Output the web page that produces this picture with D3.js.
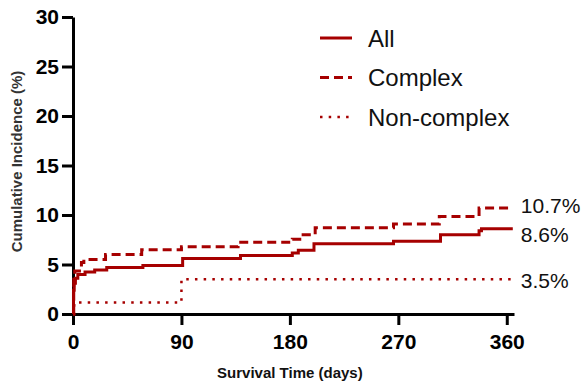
<!DOCTYPE html>
<meta charset="utf-8">
<script src="https://d3js.org/d3.v7.min.js"></script>
<style>
  body { margin: 0; background: #fff; }
  text { font-family: "Liberation Sans", Arial, sans-serif; }
</style>
<div id="chart"></div>
<script>

// step changes: day of the jump, and the new value (%)
var allDays = [0, 0.4, 1, 2, 4, 10, 18, 28, 58, 91, 139, 182, 187, 200, 266, 305, 337, 339];
var allVals = [0, 2.4, 3.1, 3.6, 4.0, 4.25, 4.45, 4.7, 4.9, 5.6, 5.9, 6.15, 6.45, 7.1, 7.35, 8.0, 8.4, 8.6];

var complexDays = [0, 0.6, 1.5, 7, 9, 27, 57, 90, 137, 182, 191, 201, 266, 304, 337];
var complexVals = [0, 3.5, 4.35, 5.2, 5.5, 6.0, 6.5, 6.8, 7.25, 7.55, 8.0, 8.7, 9.1, 9.85, 10.7];

var nonComplexDays = [0, 1, 90];
var nonComplexVals = [0, 1.15, 3.5];

var lastDay = 365;

var seriesNames = ["All", "Complex", "Non-complex"];
var endLabels = ["8.6%", "10.7%", "3.5%"];

var xTicks = [0, 90, 180, 270, 360];
var yTicks = [0, 5, 10, 15, 20, 25, 30];

var width = 585, height = 383;
var red = "#a60000";

var svg = d3.select("#chart").append("svg")
    .attr("width", width)
    .attr("height", height);

var x = d3.scaleLinear().domain([0, 366]).range([73, 514]);
var y = d3.scaleLinear().domain([0, 30]).range([314, 17]);

function toPoints(days, vals) {
  var pts = days.map(function(d, i) { return [d, vals[i]]; });
  pts.push([lastDay, vals[vals.length - 1]]);
  return pts;
}

var series = [
  { pts: toPoints(allDays, allVals), dash: null, width: 3, label: endLabels[0], dy: 6 },
  { pts: toPoints(complexDays, complexVals), dash: "9,5", width: 3, label: endLabels[1], dy: -3 },
  { pts: toPoints(nonComplexDays, nonComplexVals), dash: "2.5,6.2", width: 2.5, label: endLabels[2], dy: 1 }
];

var line = d3.line()
  .x(function(d) { return x(d[0]); })
  .y(function(d) { return y(d[1]); })
  .curve(d3.curveStepAfter);

// axes
var xAxis = svg.append("g")
  .attr("transform", "translate(0," + y(0) + ")")
  .call(d3.axisBottom(x).tickValues(xTicks).tickSize(11).tickSizeOuter(0).tickPadding(9));

var yAxis = svg.append("g")
  .attr("transform", "translate(" + x(0) + ",0)")
  .call(d3.axisLeft(y).tickValues(yTicks).tickSize(11).tickSizeOuter(0).tickPadding(3));

[xAxis, yAxis].forEach(function(a) {
  a.select(".domain").attr("stroke", "#000").attr("stroke-width", 3);
  a.selectAll(".tick line").attr("stroke", "#000").attr("stroke-width", 3);
  a.selectAll(".tick text")
    .attr("fill", "#000")
    .style("font-size", "21px")
    .style("font-weight", "bold")
    .style("font-family", "'Liberation Sans', Arial, sans-serif");
});

// curves
series.forEach(function(s) {
  svg.append("path")
    .datum(s.pts)
    .attr("d", line)
    .attr("fill", "none")
    .attr("stroke", red)
    .attr("stroke-width", s.width)
    .attr("stroke-dasharray", s.dash);

  var last = s.pts[s.pts.length - 1];
  svg.append("text")
    .attr("x", x(lastDay) + 8)
    .attr("y", y(last[1]) + s.dy)
    .attr("dominant-baseline", "central")
    .style("font-size", "21px")
    .attr("fill", "#111")
    .text(s.label);
});

// axis titles
svg.append("text")
  .attr("x", (x(0) + x(360)) / 2)
  .attr("y", 378)
  .attr("text-anchor", "middle")
  .style("font-size", "15px")
  .style("font-weight", "bold")
  .attr("fill", "#111")
  .text("Survival Time (days)");

svg.append("text")
  .attr("transform", "translate(22," + (y(15) - 4) + ") rotate(-90)")
  .attr("text-anchor", "middle")
  .style("font-size", "15px")
  .style("font-weight", "bold")
  .attr("fill", "#333")
  .text("Cumulative Incidence (%)");

// legend
var legend = svg.append("g").attr("transform", "translate(320,38)");
series.forEach(function(s, i) {
  var row = legend.append("g").attr("transform", "translate(0," + (i * 39.5) + ")");
  row.append("line")
    .attr("x1", 0).attr("x2", 32)
    .attr("stroke", red)
    .attr("stroke-width", s.width)
    .attr("stroke-dasharray", s.dash);
  row.append("text")
    .attr("x", 48)
    .attr("dominant-baseline", "central")
    .style("font-size", "24px")
    .attr("fill", "#111")
    .text(seriesNames[i]);
});

</script>
